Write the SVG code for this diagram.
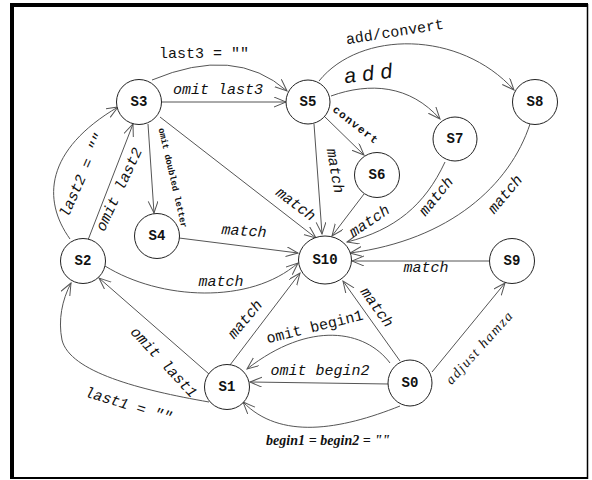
<svg xmlns="http://www.w3.org/2000/svg" width="592" height="480" viewBox="0 0 592 480">
<style>
.node circle,.node ellipse{fill:#fff;stroke:#222;stroke-width:1}
.node text{font-family:"Liberation Mono",monospace;font-weight:bold;font-size:14px;text-anchor:middle;dominant-baseline:central;fill:#111}
.edges path{fill:none;stroke:#555;stroke-width:1;marker-end:url(#arr)}
.lbl{font-family:"Liberation Mono",monospace;font-size:15px;font-style:italic;fill:#111;text-anchor:middle;dominant-baseline:central}
.up{font-style:normal}
.sm{font-size:9px;font-weight:bold;font-style:normal}
.ser{font-family:"Liberation Serif",serif;font-size:14px;font-style:italic}
.b{font-weight:bold}
</style>
<defs>
<marker id="arr" markerWidth="14" markerHeight="12" refX="12" refY="5" orient="auto" markerUnits="userSpaceOnUse">
<path d="M0,0 L12,5 L0,10" fill="none" stroke="#555" stroke-width="1"/>
</marker>
</defs>
<rect width="592" height="480" fill="#fff"/>
<g id="frame" stroke="#000" fill="none">
<line x1="10" y1="5" x2="588" y2="5" stroke-width="4"/>
<line x1="12" y1="3" x2="12" y2="479" stroke-width="4"/>
<line x1="587.5" y1="4" x2="587.5" y2="479" stroke-width="1.5"/>
<line x1="10" y1="478" x2="588" y2="478" stroke-width="2"/>
</g>
<g class="edges">
<path d="M152,80 Q235,45 287,91"/>
<path d="M161,102 L286,102"/>
<path d="M148,124 L154,213"/>
<path d="M160,117 L316,238"/>
<path d="M70,239 C42,200 45,150 118,107"/>
<path d="M88,240 L133,124"/>
<path d="M179,238 L298,253"/>
<path d="M105,266 C160,300 250,305 298,263"/>
<path d="M209,374 L99,278"/>
<path d="M209,402 C140,390 70,372 62,340 C58,320 62,300 71,283"/>
<path d="M230,365 L300,273"/>
<path d="M390,363 C365,330 310,320 247,369"/>
<path d="M389,384 L250,382"/>
<path d="M400,406 C340,430 280,440 243,402"/>
<path d="M400,361 L343,281"/>
<path d="M432,372 L505,283"/>
<path d="M490,261 L352,261"/>
<path d="M319,81 C360,30 460,30 514,90"/>
<path d="M331,96 C370,82 410,85 440,119"/>
<path d="M324,116 L364,155"/>
<path d="M314,124 L322,234"/>
<path d="M364,194 L332,236"/>
<path d="M445,162 C425,205 395,230 347,242"/>
<path d="M530,124 C510,185 450,240 350,253"/>
</g>
<g id="labels">
<text class="lbl up" x="204" y="54">last3 = ""</text>
<text class="lbl" x="218" y="90">omit last3</text>
<text class="lbl sm" x="172" y="178" textLength="102" transform="rotate(77 172 178)">omit doubled letter</text>
<text class="lbl" x="295" y="205" transform="rotate(37 295 205)">match</text>
<text class="lbl" x="83" y="176" transform="rotate(-66 83 176)">last2 = ""</text>
<text class="lbl" x="120" y="190" transform="rotate(-65 120 190)">omit last2</text>
<text class="lbl" x="244" y="232" transform="rotate(4 244 232)">match</text>
<text class="lbl" x="221" y="282">match</text>
<text class="lbl" x="163" y="363" transform="rotate(47 163 363)">omit last1</text>
<text class="lbl" x="128" y="406" transform="rotate(17 128 406)">last1 = ""</text>
<text class="lbl" x="246" y="320" transform="rotate(-50 246 320)">match</text>
<text class="lbl up" x="315" y="328" transform="rotate(-14 315 328)">omit begin1</text>
<text class="lbl" x="320" y="371">omit begin2</text>
<text class="lbl ser b" x="328" y="440" textLength="124">begin1 = begin2 = ""</text>
<text class="lbl" x="376" y="308" transform="rotate(54 376 308)">match</text>
<text class="lbl ser" x="479" y="348" textLength="92" transform="rotate(-48 479 348)">adjust hamza</text>
<text class="lbl" x="426" y="268">match</text>
<text class="lbl up" x="395" y="33" transform="rotate(-9 395 33)">add/convert</text>
<text class="lbl" x="368" y="73" textLength="48" style="font-family:'Liberation Sans',sans-serif;font-size:21px" transform="rotate(-7 368 73)">add</text>
<text class="lbl sm" x="355" y="125" textLength="54" style="font-size:11px" transform="rotate(38 355 125)">convert</text>
<text class="lbl" x="334" y="171" transform="rotate(80 334 171)">match</text>
<text class="lbl" x="370" y="222" transform="rotate(-34 370 222)">match</text>
<text class="lbl" x="437" y="197" transform="rotate(-51 437 197)">match</text>
<text class="lbl" x="506" y="195" transform="rotate(-50 506 195)">match</text>
</g>
<g id="S0" class="node"><ellipse cx="410" cy="383" rx="22" ry="23"/><text x="410" y="383">S0</text></g>
<g id="S1" class="node"><circle cx="227" cy="387" r="22.5"/><text x="227" y="387">S1</text></g>
<g id="S2" class="node"><circle cx="83" cy="261" r="22.5"/><text x="83" y="261">S2</text></g>
<g id="S3" class="node"><circle cx="139" cy="102" r="22.5"/><text x="139" y="102">S3</text></g>
<g id="S4" class="node"><circle cx="157" cy="236" r="22.5"/><text x="157" y="236">S4</text></g>
<g id="S5" class="node"><circle cx="308" cy="102" r="22"/><text x="308" y="102">S5</text></g>
<g id="S6" class="node"><circle cx="377" cy="175" r="22.5"/><text x="377" y="175">S6</text></g>
<g id="S7" class="node"><circle cx="455" cy="139" r="22"/><text x="455" y="139">S7</text></g>
<g id="S8" class="node"><circle cx="535" cy="102" r="22.5"/><text x="535" y="102">S8</text></g>
<g id="S9" class="node"><circle cx="512" cy="261" r="22.5"/><text x="512" y="261">S9</text></g>
<g id="S10" class="node"><ellipse cx="325" cy="260" rx="26.5" ry="24"/><text x="325" y="260">S10</text></g>
</svg>
